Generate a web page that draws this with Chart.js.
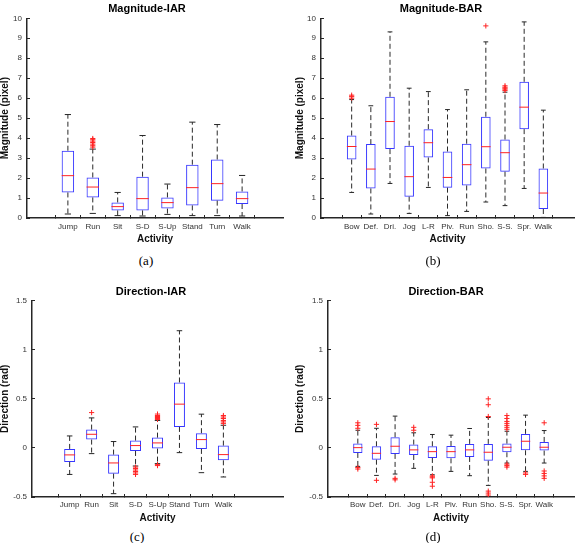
<!DOCTYPE html>
<html>
<head>
<meta charset="utf-8">
<script src="https://cdn.jsdelivr.net/npm/chart.js@4.4.0/dist/chart.umd.min.js"></script>
<style>
    body { margin: 0; background: #fff; }
    #page { position: relative; width: 579px; height: 543px; overflow: hidden; }
    #page canvas { position: absolute; }
    .cap { position: absolute; font: 13px 'Liberation Serif', 'Times New Roman', serif; line-height: 15px; color: #000; transform: translateX(-50%); }
</style>
</head>
<body>
<div id="page">
    <canvas id="chartA" width="290" height="245" style="left:0;top:0"></canvas>
    <canvas id="chartB" width="290" height="245" style="left:289px;top:0"></canvas>
    <canvas id="chartC" width="290" height="254" style="left:0;top:270px"></canvas>
    <canvas id="chartD" width="290" height="254" style="left:289px;top:270px"></canvas>
    <div class="cap" style="left:146px;top:253px">(a)</div>
    <div class="cap" style="left:433px;top:253px">(b)</div>
    <div class="cap" style="left:137px;top:529px">(c)</div>
    <div class="cap" style="left:433px;top:529px">(d)</div>
</div>
<script>
// ===== Boxplots: IAR / BAR activities =====

var iarCats = ['Jump', 'Run', 'Sit', 'S-D', 'S-Up', 'Stand', 'Turn', 'Walk'];
var barCats = ['Bow', 'Def.', 'Dri.', 'Jog', 'L-R', 'Piv.', 'Run', 'Sho.', 'S-S.', 'Spr.', 'Walk'];

var magTicks = [0, 1, 2, 3, 4, 5, 6, 7, 8, 9, 10];
var dirTicks = [-0.5, 0, 0.5, 1, 1.5];

// each row: [lower whisker, Q1, median, Q3, upper whisker]
var magIarStats = [
    [0.20, 1.28, 2.12, 3.37, 5.18],
    [0.23, 1.03, 1.55, 2.03, 3.45],
    [0.12, 0.38, 0.57, 0.78, 1.28],
    [0.10, 0.38, 0.97, 2.07, 4.13],
    [0.18, 0.47, 0.77, 1.03, 1.70],
    [0.12, 0.63, 1.52, 2.67, 4.80],
    [0.12, 0.87, 1.72, 2.93, 4.68],
    [0.10, 0.70, 0.97, 1.33, 2.13]
];
var magIarOutliers = [
    [], [3.55, 3.62, 3.70, 3.78, 3.85, 3.92, 3.98], [], [], [], [], [], []
];

var magBarStats = [
    [1.28, 2.93, 3.58, 4.13, 5.93],
    [0.20, 1.48, 2.45, 3.70, 5.62],
    [1.73, 3.45, 4.83, 6.07, 9.32],
    [0.23, 1.07, 2.07, 3.62, 6.50],
    [1.53, 3.03, 3.77, 4.45, 6.33],
    [0.12, 1.52, 2.03, 3.33, 5.43],
    [0.33, 1.63, 2.67, 3.72, 6.42],
    [0.80, 2.48, 3.57, 5.07, 8.82],
    [0.62, 2.32, 3.27, 3.93, 6.30],
    [1.48, 4.45, 5.55, 6.82, 9.82],
    [0.03, 0.45, 1.25, 2.48, 5.40]
];
var magBarOutliers = [
    [6.00, 6.08, 6.15], [], [], [], [], [], [], [9.62],
    [6.38, 6.45, 6.50, 6.55, 6.62], [], []
];

var dirIarStats = [
    [-0.270, -0.143, -0.071, -0.010, 0.122],
    [-0.058,  0.085,  0.139,  0.187, 0.306],
    [-0.466, -0.262, -0.153, -0.068, 0.065],
    [-0.184, -0.031,  0.024,  0.075, 0.214],
    [-0.160, -0.007,  0.051,  0.105, 0.280],
    [-0.048,  0.214,  0.446,  0.667, 1.194],
    [-0.252, -0.010,  0.085,  0.150, 0.344],
    [-0.296, -0.126, -0.068,  0.024, 0.231]
];
var dirIarOutliers = [
    [],
    [0.36],
    [],
    [-0.195, -0.21, -0.225, -0.24, -0.255, -0.27],
    [0.29, 0.30, 0.31, 0.32, 0.33, 0.345, -0.17, -0.18],
    [],
    [],
    [0.25, 0.265, 0.28, 0.30, 0.315, 0.33]
];

var dirBarStats = [
    [-0.188, -0.051,  0.003, 0.044, 0.180],
    [-0.280, -0.120, -0.055, 0.017, 0.200],
    [-0.266, -0.061,  0.017, 0.109, 0.324],
    [-0.208, -0.072, -0.020, 0.034, 0.154],
    [-0.273, -0.102, -0.038, 0.017, 0.137],
    [-0.239, -0.106, -0.038, 0.020, 0.130],
    [-0.283, -0.092, -0.020, 0.041, 0.198],
    [-0.382, -0.130, -0.044, 0.041, 0.310],
    [-0.154, -0.044,  0.007, 0.044, 0.170],
    [-0.239, -0.024,  0.068, 0.143, 0.334],
    [-0.154, -0.027,  0.007, 0.061, 0.177]
];
var dirBarOutliers = [
    [0.20, 0.23, 0.256, -0.20, -0.215],
    [0.24, -0.33],
    [-0.31, -0.325],
    [0.18, 0.21],
    [-0.285, -0.295, -0.305, -0.35, -0.39],
    [],
    [],
    [0.32, 0.44, 0.50, -0.44, -0.46, -0.48],
    [0.19, 0.21, 0.23, 0.25, 0.27, 0.30, 0.33, -0.165, -0.18, -0.195],
    [-0.255, -0.27],
    [0.256, -0.235, -0.26, -0.285, -0.31]
];

var FONT = "'Liberation Sans', Arial, Helvetica, sans-serif";
var BLUE = 'rgb(55,55,255)';
var RED = 'rgb(255,35,35)';
var DARK = '#262626';

function unitPx(chart) {
    var s = chart.scales.x;
    return s.getPixelForValue(1) - s.getPixelForValue(0);
}

// Matlab centres the title a bit left of the axes; move the title block
var titleShift = {
    id: 'titleShift',
    afterLayout: function(chart, args, opts) {
        var t = chart.titleBlock;
        if (!t || opts.center == null) return;
        var right = chart.chartArea.right;
        t.left = 2 * opts.center - right;
        t.right = right;
        t.width = t.right - t.left;
    }
};

function buildDatasets(stats, outliers) {
    var boxes = [], medians = [], whiskers = [], caps = [], outs = [];
    stats.forEach(function(s, i) {
        var x = i + 1;
        boxes.push({ x: x, y: [s[1], s[3]] });
        medians.push({ x: x, y: s[2] });
        whiskers.push({ x: x, y: s[3] }, { x: x, y: s[4] }, { x: x, y: null },
                      { x: x, y: s[1] }, { x: x, y: s[0] }, { x: x, y: null });
        caps.push({ x: x, y: s[0] }, { x: x, y: s[4] });
        outliers[i].forEach(function(v) { outs.push({ x: x, y: v }); });
    });

    return [
        {
            type: 'scatter',
            data: outs,
            pointStyle: 'cross',
            pointRadius: 2.6,
            pointBorderColor: RED,
            pointBorderWidth: 1,
            order: 0
        },
        {
            type: 'scatter',
            data: medians,
            pointStyle: 'line',
            pointRadius: function(ctx) { return unitPx(ctx.chart) * 0.25; },
            pointBorderColor: RED,
            pointBorderWidth: 1,
            order: 1
        },
        {
            type: 'scatter',
            data: caps,
            pointStyle: 'line',
            pointRadius: function(ctx) { return unitPx(ctx.chart) * 0.125; },
            pointBorderColor: DARK,
            pointBorderWidth: 1,
            order: 2
        },
        {
            type: 'line',
            data: whiskers,
            borderColor: '#2a2a2a',
            borderWidth: 1,
            borderDash: [5, 3],
            pointRadius: 0,
            fill: false,
            spanGaps: false,
            order: 3
        },
        {
            type: 'bar',
            data: boxes,
            backgroundColor: 'rgba(0,0,0,0)',
            borderColor: BLUE,
            borderWidth: 1,
            borderSkipped: false,
            barPercentage: 0.5,
            categoryPercentage: 1,
            order: 4
        }
    ];
}

// inward tick marks, like Matlab axes
var tickGrid = {
    display: true,
    drawOnChartArea: false,
    drawTicks: true,
    tickLength: -3,
    tickColor: DARK,
    tickWidth: 1
};

function makePanel(id, cfg) {
    var cats = cfg.cats;
    new Chart(document.getElementById(id), {
        type: 'bar',
        data: { datasets: buildDatasets(cfg.stats, cfg.outliers) },
        plugins: [titleShift],
        options: {
            responsive: false,
            animation: false,
            events: [],
            layout: { padding: { left: 0, right: cfg.padR, top: 0, bottom: 0 } },
            plugins: {
                legend: { display: false },
                tooltip: { enabled: false },
                titleShift: { center: cfg.titleCenter },
                title: {
                    display: true,
                    text: cfg.title,
                    color: '#000',
                    font: { family: FONT, size: 11, weight: 'bold' },
                    padding: { top: cfg.titleTop, bottom: cfg.titleBottom }
                }
            },
            scales: {
                x: {
                    type: 'linear',
                    min: 0,
                    max: cfg.xMax,
                    afterBuildTicks: function(axis) {
                        axis.ticks = cats.map(function(c, i) { return { value: i + 1 }; });
                    },
                    afterFit: function(s) { s.height = 27; },
                    grid: tickGrid,
                    border: { color: DARK, width: 1.5 },
                    ticks: {
                        autoSkip: false,
                        maxRotation: 0,
                        padding: cfg.xTickPad + 3,
                        color: '#333',
                        font: { family: FONT, size: 8 },
                        callback: function(v) { return cats[Math.round(v) - 1]; }
                    },
                    title: {
                        display: true,
                        text: 'Activity',
                        color: '#111',
                        font: { family: FONT, size: 10, weight: 'bold' },
                        padding: { top: 0, bottom: 0 }
                    }
                },
                y: {
                    min: cfg.yTicks[0],
                    max: cfg.yTicks[cfg.yTicks.length - 1],
                    afterBuildTicks: function(axis) {
                        axis.ticks = cfg.yTicks.map(function(v) { return { value: v }; });
                    },
                    afterFit: function(s) { s.width = cfg.yWidth; },
                    grid: tickGrid,
                    border: { color: DARK, width: 1.5 },
                    ticks: {
                        padding: 8,
                        color: '#333',
                        font: { family: FONT, size: 8 },
                        callback: function(v) { return String(v); }
                    },
                    title: {
                        display: true,
                        text: cfg.yLabel,
                        color: '#111',
                        font: { family: FONT, size: 10, weight: 'bold' },
                        padding: { top: cfg.yTitlePad, bottom: 0 }
                    }
                }
            }
        }
    });
}

makePanel('chartA', {
    title: 'Magnitude-IAR', yLabel: 'Magnitude (pixel)',
    cats: iarCats, stats: magIarStats, outliers: magIarOutliers, yTicks: magTicks,
    xMax: 9, padR: 7, yWidth: 27, yTitlePad: -0.5, titleCenter: 147,
    titleTop: 2.7, titleBottom: 2.4, xTickPad: 4
});
makePanel('chartB', {
    title: 'Magnitude-BAR', yLabel: 'Magnitude (pixel)',
    cats: barCats, stats: magBarStats, outliers: magBarOutliers, yTicks: magTicks,
    xMax: 12, padR: 3, yWidth: 32, yTitlePad: 4.8, titleCenter: 152,
    titleTop: 2.7, titleBottom: 2.4, xTickPad: 4
});
makePanel('chartC', {
    title: 'Direction-IAR', yLabel: 'Direction (rad)',
    cats: iarCats, stats: dirIarStats, outliers: dirIarOutliers, yTicks: dirTicks,
    xMax: 10, padR: 7, yWidth: 32, yTitlePad: -0.5, titleCenter: 151,
    titleTop: 15, titleBottom: 2.5, xTickPad: 3
});
makePanel('chartD', {
    title: 'Direction-BAR', yLabel: 'Direction (rad)',
    cats: barCats, stats: dirBarStats, outliers: dirBarOutliers, yTicks: dirTicks,
    xMax: 12, padR: 3, yWidth: 39, yTitlePad: 5.2, titleCenter: 157,
    titleTop: 15, titleBottom: 2.5, xTickPad: 3
});
</script>
</body>
</html>
